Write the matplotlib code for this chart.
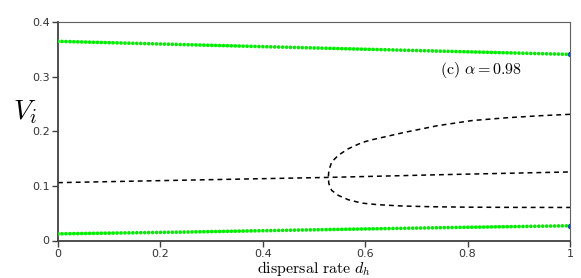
import matplotlib
matplotlib.use("Agg")
import matplotlib.pyplot as plt

# values
dh_green = [0.0, 0.25, 0.5, 0.75, 1.0]
v_green_top = [0.3646, 0.3585, 0.3525, 0.3466, 0.3407]
v_green_bot = [0.0122, 0.0155, 0.0196, 0.0235, 0.0270]

dh_mid = [0.0, 0.25, 0.528, 0.75, 1.0]
v_mid = [0.1059, 0.1105, 0.1155, 0.1205, 0.1255]

# upper branch from the right edge down to the fold, then lower branch back out
dh_upper = [1.0, 0.941, 0.875, 0.809, 0.742, 0.676, 0.609, 0.593, 0.567, 0.5475, 0.5345, 0.529, 0.528]
v_upper = [0.2310, 0.2284, 0.2246, 0.2196, 0.2103, 0.1978, 0.1835, 0.1790, 0.1680, 0.1560, 0.1437, 0.1280, 0.1155]
dh_lower = [0.529, 0.5345, 0.5475, 0.567, 0.593, 0.6256, 0.671, 0.73, 0.8, 0.9, 1.0]
v_lower = [0.1040, 0.0917, 0.0826, 0.0746, 0.0685, 0.0655, 0.0632, 0.0618, 0.0610, 0.0606, 0.0605]

fig = plt.figure(figsize=(5.81, 2.78), dpi=100)
ax = fig.add_axes([58 / 581, 1 - 240.5 / 278, 512 / 581, 218.5 / 278])

# round-capped zero-length dashes give the dotted green look
dots = dict(color="#00ee00", linewidth=2.7, dash_capstyle="round",
            linestyle=(0, (0.001, 1.05)), zorder=3)
ax.plot(dh_green, v_green_top, **dots)
ax.plot(dh_green, v_green_bot, **dots)
ax.plot([dh_green[-1]], [v_green_top[-1]], "o", color="#2040ff", ms=3, zorder=2)
ax.plot([dh_green[-1]], [v_green_bot[-1]], "o", color="#2040ff", ms=3, zorder=2)

dash = dict(color="black", linewidth=1.1, linestyle=(0, (3.2, 2.6)))
ax.plot(dh_mid, v_mid, **dash)
ax.plot(dh_upper + dh_lower, v_upper + v_lower, **dash)

ax.set_xlim(0, 1)
ax.set_ylim(0, 0.4)
ax.set_xticks([0, 0.2, 0.4, 0.6, 0.8, 1])
ax.set_xticklabels(["0", "0.2", "0.4", "0.6", "0.8", "1"])
ax.set_yticks([0, 0.1, 0.2, 0.3, 0.4])
ax.set_yticklabels(["0", "0.1", "0.2", "0.3", "0.4"])
ax.tick_params(direction="out", length=4, width=1, colors="#404040",
               labelsize=8, labelcolor="#333333", pad=2)

for s in ["left", "bottom"]:
    ax.spines[s].set_color("#404040")
    ax.spines[s].set_linewidth(1.3)
for s in ["top", "right"]:
    ax.spines[s].set_color("#606060")
    ax.spines[s].set_linewidth(0.8)

ax.text(0.826, 0.312, r"$\mathrm{(c)}\ \alpha = 0.98$", fontsize=11.5,
        ha="center", va="center", math_fontfamily="cm")
fig.text(25 / 581, 1 - 112 / 278, r"$V_i$", fontsize=20, ha="center", va="center",
         math_fontfamily="cm")
fig.text(314 / 581, 1 - 268 / 278, r"$\mathrm{dispersal\ rate}\ d_h$", fontsize=11.5,
         ha="center", va="center", math_fontfamily="cm")

fig.savefig("out.png", dpi=100)
